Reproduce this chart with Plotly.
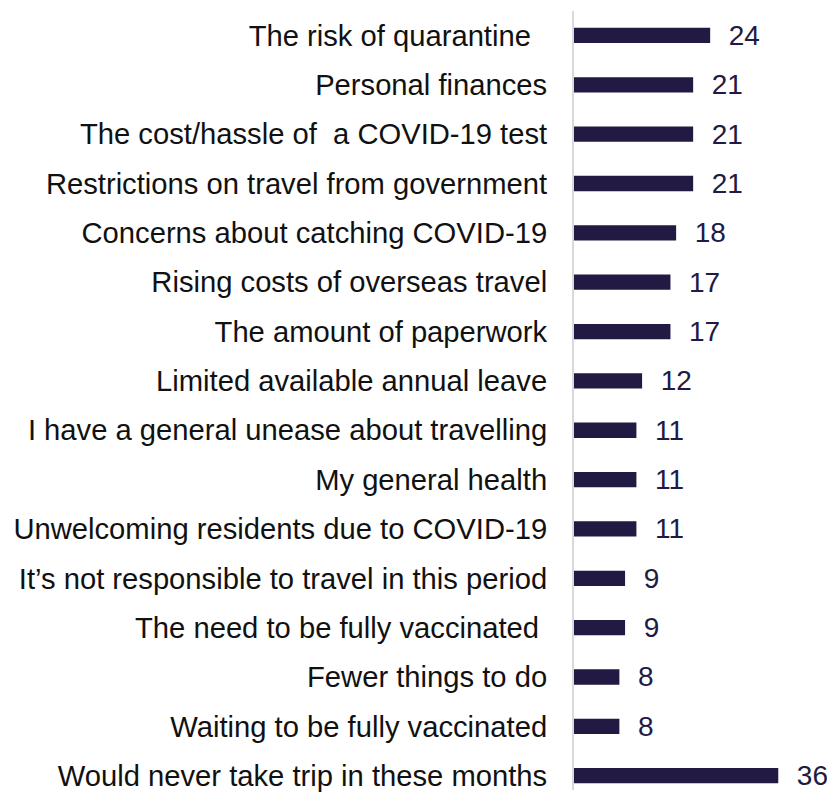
import plotly.graph_objects as go

labels = [
    "The risk of quarantine\u00a0\u00a0",
    "Personal finances",
    "The cost/hassle of \u00a0a COVID-19 test",
    "Restrictions on travel from government",
    "Concerns about catching COVID-19",
    "Rising costs of overseas travel",
    "The amount of paperwork",
    "Limited available annual leave",
    "I have a general unease about travelling",
    "My general health",
    "Unwelcoming residents due to COVID-19",
    "It\u2019s not responsible to travel in this period",
    "The need to be fully vaccinated\u00a0",
    "Fewer things to do",
    "Waiting to be fully vaccinated",
    "Would never take trip in these months",
]
values = [24, 21, 21, 21, 18, 17, 17, 12, 11, 11, 11, 9, 9, 8, 8, 36]

navy = "#221a42"

fig = go.Figure(go.Bar(
    x=values,
    y=labels,
    orientation="h",
    marker=dict(color=navy, line=dict(width=0)),
    width=0.31,
    text=values,
    texttemplate="\u00a0\u00a0%{x}",
    textposition="outside",
    constraintext="none",
    cliponaxis=False,
    textfont=dict(family="Liberation Sans, Arial", size=28, color=navy),
))

# page body has an 8px margin, so the figure is 8px smaller each way
fig.update_layout(
    width=827, height=784,
    margin=dict(l=566, r=0, t=3, b=0),
    plot_bgcolor="white",
    paper_bgcolor="white",
    showlegend=False,
    font=dict(family="Liberation Sans, Arial", color="#111111"),
    xaxis=dict(range=[0, 46], visible=False, showgrid=False, zeroline=False),
    yaxis=dict(
        type="category",
        categoryorder="array",
        categoryarray=labels,
        range=[15.29, -0.495],
        showline=True, linecolor="#d9d9d9", linewidth=2,
        ticks="", showgrid=False, zeroline=False,
        tickfont=dict(size=29.2, color="#111111"),
        ticklabelstandoff=19,
    ),
)

fig.write_html("out.html")
